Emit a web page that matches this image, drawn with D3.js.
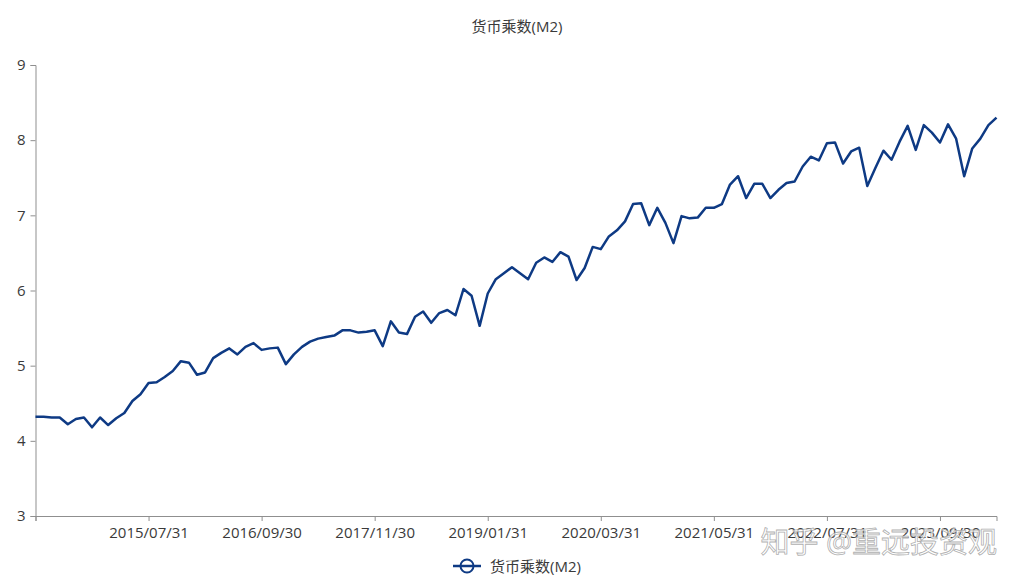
<!DOCTYPE html>
<html>
<head>
<meta charset="utf-8">
<script src="https://cdn.jsdelivr.net/npm/d3@7/dist/d3.min.js"></script>
<style>
  html, body { margin: 0; padding: 0; background: #fff; }
  svg { display: block; }
  text { font-family: "Open Sans", "Noto Sans CJK SC", "Noto Sans", sans-serif; }
</style>
</head>
<body>
<svg id="chart" width="1021" height="582"></svg>
<script>
const title = "货币乘数(M2)";
const seriesName = "货币乘数(M2)";
const startMonth = new Date(2014, 4, 1); // May 2014, month-end labels
const values = [
  4.32, 4.32, 4.31, 4.31, 4.22, 4.29, 4.31, 4.18, 4.31, 4.21,
  4.30, 4.37, 4.53, 4.62, 4.77, 4.78, 4.85, 4.93, 5.06, 5.04,
  4.88, 4.91, 5.10, 5.17, 5.23, 5.15, 5.25, 5.30, 5.21, 5.23,
  5.24, 5.02, 5.15, 5.25, 5.32, 5.36, 5.38, 5.40, 5.47, 5.47,
  5.44, 5.45, 5.47, 5.26, 5.59, 5.44, 5.42, 5.65, 5.72, 5.57,
  5.70, 5.74, 5.67, 6.02, 5.93, 5.53, 5.96, 6.15, 6.23, 6.31,
  6.23, 6.15, 6.37, 6.44, 6.38, 6.51, 6.45, 6.14, 6.30, 6.58,
  6.55, 6.72, 6.80, 6.92, 7.15, 7.16, 6.87, 7.10, 6.90, 6.63,
  6.99, 6.96, 6.97, 7.10, 7.10, 7.15, 7.41, 7.52, 7.23, 7.42,
  7.42, 7.23, 7.34, 7.43, 7.45, 7.65, 7.78, 7.73, 7.96, 7.97,
  7.69, 7.85, 7.90, 7.39, 7.63, 7.86, 7.74, 7.98, 8.19, 7.87,
  8.20, 8.10, 7.97, 8.21, 8.02, 7.52, 7.89, 8.02, 8.20, 8.30
];
const yTicks = [3, 4, 5, 6, 7, 8, 9];
const labelInterval = 14;

(function () {
const fmt = d3.timeFormat("%Y/%m/%d");
const categories = values.map((_, i) => {
  const d = new Date(startMonth.getFullYear(), startMonth.getMonth() + i + 1, 0);
  return fmt(d);
});

const svg = d3.select("#chart");
const mLeft = 35.5, mRight = 996.5, mTop = 65, mBottom = 516;
const color = "#0e3a84";
const axisColor = "#8f8f8f";
const textColor = "#3a3a3a";
const fontStack = '"Open Sans", "Noto Sans CJK SC", sans-serif';

const x = d3.scalePoint().domain(categories).range([mLeft, mRight]);
const y = d3.scaleLinear().domain([3, 9]).range([mBottom, mTop]);

// title
svg.append("text").attr("x", 517).attr("y", 32).attr("text-anchor", "middle")
  .attr("font-size", 15).attr("fill", textColor).text(title);

// y axis
const yAxis = d3.axisLeft(y).tickValues(yTicks).tickSize(5).tickPadding(5).tickFormat(d3.format("d"));
const gy = svg.append("g").attr("transform", `translate(${mLeft},0)`).call(yAxis);
gy.select(".domain").attr("stroke", axisColor);
gy.selectAll(".tick line").attr("stroke", axisColor);
gy.selectAll(".tick text").attr("font-size", 15).attr("fill", textColor)
  .style("font-family", fontStack);

// x axis
const tickCats = categories.filter((_, i) => i % labelInterval === 0);
const xAxis = d3.axisBottom(x).tickValues(tickCats).tickSize(5).tickPadding(6)
  .tickFormat((d) => categories.indexOf(d) === 0 ? "" : d);
const gx = svg.append("g").attr("transform", `translate(0,${mBottom})`).call(xAxis);
gx.select(".domain").attr("stroke", axisColor);
gx.selectAll(".tick line").attr("stroke", axisColor);
gx.selectAll(".tick text").attr("font-size", 15).attr("fill", textColor)
  .style("font-family", fontStack);

// line
const line = d3.line().x((d, i) => x(categories[i])).y((d) => y(d));
svg.append("path").datum(values).attr("d", line).attr("fill", "none")
  .attr("stroke", color).attr("stroke-width", 2.5).attr("stroke-linejoin", "round");

// legend
const lg = svg.append("g").attr("transform", "translate(467,566)");
lg.append("line").attr("x1", -14).attr("x2", 14).attr("y1", 0).attr("y2", 0)
  .attr("stroke", color).attr("stroke-width", 2.5);
lg.append("circle").attr("r", 6.5).attr("fill", "#fff").attr("stroke", color).attr("stroke-width", 2);
lg.append("line").attr("x1", -6.5).attr("x2", 6.5).attr("y1", 0).attr("y2", 0)
  .attr("stroke", color).attr("stroke-width", 2.5);
lg.append("text").attr("x", 23).attr("y", 5.5).attr("font-size", 15).attr("fill", textColor).text(seriesName);

// watermark
svg.append("text").attr("x", 997).attr("y", 553).attr("text-anchor", "end")
  .attr("font-size", 29).attr("fill", "#ffffff").attr("fill-opacity", 0.7)
  .attr("stroke", "#9a9a9a").attr("stroke-width", 0.8).attr("stroke-opacity", 0.8)
  .text("知乎 @重远投资观");
})();
</script>
</body>
</html>
